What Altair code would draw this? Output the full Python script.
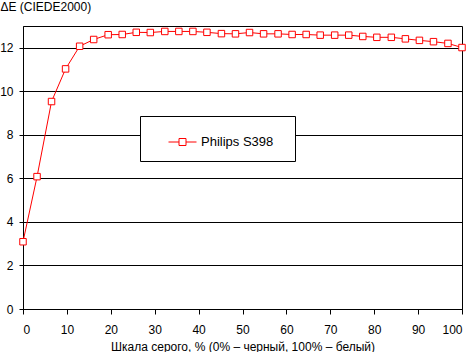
import altair as alt
import pandas as pd

gray_pct = [0, 3.2, 6.5, 9.7, 12.9, 16.1, 19.4, 22.6, 25.8, 29.0, 32.3, 35.5,
            38.7, 41.9, 45.2, 48.4, 51.6, 54.8, 58.1, 61.3, 64.5, 67.7, 71.0,
            74.2, 77.4, 80.6, 83.9, 87.1, 90.3, 93.5, 96.8, 100]
delta_e = [3.09, 6.08, 9.53, 11.03, 12.07, 12.38, 12.60, 12.61, 12.71, 12.70,
           12.75, 12.75, 12.75, 12.71, 12.65, 12.64, 12.70, 12.64, 12.64, 12.61,
           12.61, 12.58, 12.58, 12.58, 12.52, 12.48, 12.48, 12.41, 12.34, 12.28,
           12.20, 12.01]
series = "Philips S398"
x_ticks = [0, 10, 20, 30, 40, 50, 60, 70, 80, 90, 100]
y_ticks = [0, 2, 4, 6, 8, 10, 12]

df = pd.DataFrame({"x": gray_pct, "y": delta_e, "s": [series] * len(gray_pct)})

FONT = "Liberation Sans"

x_enc = alt.X("x:Q", scale=alt.Scale(domain=[0, 100], nice=False),
              axis=alt.Axis(values=x_ticks, title="Шкала серого, % (0% – черный, 100% – белый)",
                            grid=False, tickSize=5, labelPadding=19, labelBaseline="alphabetic",
                            titleBaseline="alphabetic", titleY=41, titleX=219.5,
                            titleFontWeight="normal"))
y_enc = alt.Y("y:Q", scale=alt.Scale(domain=[0, 13], nice=False),
              axis=alt.Axis(values=y_ticks, title="ΔE (CIEDE2000)", grid=True,
                            tickSize=4, labelPadding=6, titleAngle=0, titleAlign="left",
                            titleBaseline="alphabetic", titleX=-23, titleY=-16,
                            titleFontWeight="normal"))

line = alt.Chart(df).mark_line(color="#ff0000", strokeWidth=1).encode(
    x=x_enc, y=y_enc,
    color=alt.Color("s:N", scale=alt.Scale(range=["#ff0000"]),
                    legend=alt.Legend(title=None, orient="none", legendX=117, legendY=90,
                                      symbolType="M-1,0H-0.25M0.25,0H1M-0.25,-0.25H0.25V0.25H-0.25Z",
                                      symbolSize=784, symbolStrokeWidth=1,
                                      symbolStrokeColor="#ff0000", symbolFillColor="white",
                                      symbolOffset=16.5, labelOffset=4,
                                      labelExpr="datum.label + '\u2800'",
                                      labelFontSize=13, labelFont=FONT, labelColor="black",
                                      padding=11.5, strokeColor="black", fillColor="white")),
)

points = alt.Chart(df).mark_point(shape="square", filled=True, fill="white",
                                  stroke="#ff0000", strokeWidth=1, size=42,
                                  opacity=1).encode(x=x_enc, y=y_enc)

chart = alt.layer(line, points).properties(
    width=439, height=283,
    autosize=alt.AutoSizeParams(type="none"),
    padding={"left": 23, "top": 26, "right": 10, "bottom": 43},
    background="white",
).configure_view(
    stroke="black", strokeWidth=1
).configure_axis(
    labelFont=FONT, titleFont=FONT, labelFontSize=12, titleFontSize=12,
    labelColor="black", titleColor="black", titleFontWeight="normal",
    domainColor="black", tickColor="black", gridColor="black", gridWidth=1,
    gridOpacity=1, domainWidth=1, tickWidth=1,
)

chart.save("out.html", embed_options={"renderer": "svg", "actions": False})
